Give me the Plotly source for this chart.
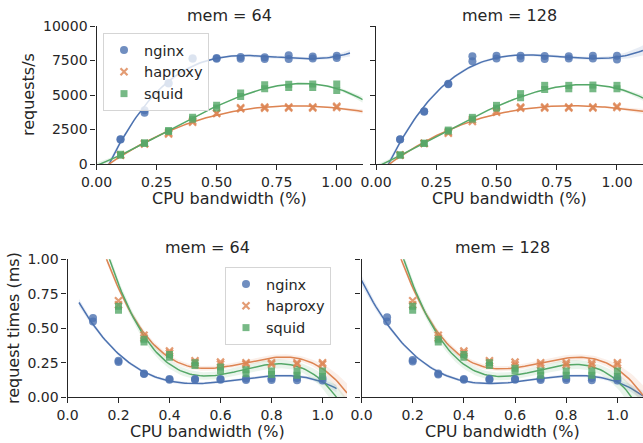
import numpy as np
import plotly.graph_objects as go

# ---------------- data ----------------
cpu = [0.1, 0.2, 0.3, 0.4, 0.5, 0.6, 0.7, 0.8, 0.9, 1.0]
servers = ["nginx", "haproxy", "squid"]

# requests/s, mem = 64 (repeated measurements per CPU value)
rps64_nginx = [[1780, 1800], [3720, 3900], [5840, 5870], [7630, 7670], [7620, 7680],
               [7620, 7760], [7600, 7730], [7600, 7880], [7650, 7790], [7690, 7840]]
rps64_haproxy = [[640, 660], [1460, 1480], [2180, 2270], [3020, 3120], [3660, 3700],
                 [4000, 4080], [4050, 4120], [4060, 4130], [4060, 4130], [4100, 4190]]
rps64_squid = [[640, 700], [1480, 1540], [2350, 2430], [3250, 3380], [4050, 4250],
               [4900, 5150], [5450, 5750], [5550, 5780], [5550, 5800], [5320, 5800]]

# requests/s, mem = 128
rps128_nginx = [[1780, 1800], [3780, 3820], [5780, 5820], [7450, 7800], [7650, 7850],
                [7650, 7850], [7600, 7820], [7650, 7800], [7650, 7850], [7580, 7850]]
rps128_haproxy = [[640, 660], [1490, 1510], [2230, 2320], [3080, 3200], [3750, 3850],
                  [4050, 4120], [4060, 4130], [4060, 4130], [4060, 4130], [4100, 4180]]
rps128_squid = [[640, 660], [1490, 1510], [2380, 2460], [3250, 3380], [4050, 4250],
                [4800, 5100], [5400, 5700], [5450, 5700], [5450, 5720], [5450, 5700]]

# request times (ms), mem = 64
rt64_nginx = [[0.55, 0.575], [0.255, 0.265], [0.168, 0.172], [0.128, 0.132], [0.127, 0.133],
              [0.127, 0.133], [0.126, 0.136], [0.125, 0.138], [0.124, 0.14], [0.122, 0.14]]
rt64_haproxy = [[1.35, 1.37], [0.67, 0.70], [0.43, 0.45], [0.32, 0.335], [0.25, 0.265],
                [0.24, 0.255], [0.24, 0.25], [0.24, 0.25], [0.24, 0.25], [0.24, 0.25]]
rt64_squid = [[1.50, 1.53], [0.63, 0.66], [0.40, 0.42], [0.29, 0.31], [0.23, 0.25],
              [0.19, 0.22], [0.17, 0.20], [0.165, 0.19], [0.16, 0.19], [0.15, 0.19]]

# request times (ms), mem = 128
rt128_nginx = [[0.55, 0.58], [0.26, 0.27], [0.165, 0.172], [0.128, 0.132], [0.127, 0.133],
               [0.127, 0.133], [0.126, 0.136], [0.125, 0.138], [0.124, 0.14], [0.122, 0.14]]
rt128_haproxy = [[1.36, 1.39], [0.67, 0.70], [0.43, 0.45], [0.32, 0.335], [0.25, 0.265],
                 [0.235, 0.255], [0.235, 0.25], [0.235, 0.25], [0.235, 0.25], [0.235, 0.25]]
rt128_squid = [[1.50, 1.53], [0.63, 0.66], [0.40, 0.42], [0.29, 0.31], [0.23, 0.25],
               [0.19, 0.21], [0.16, 0.19], [0.16, 0.19], [0.16, 0.19], [0.15, 0.19]]

top_ticks = [0, 2500, 5000, 7500, 10000]
top_xticks = [0.0, 0.25, 0.5, 0.75, 1.0]
bot_ticks = [0.0, 0.25, 0.5, 0.75, 1.0]
bot_xticks = [0.0, 0.2, 0.4, 0.6, 0.8, 1.0]

# ---------------- style ----------------
W, H = 643, 443
FONT = "DejaVu Sans"
INK = "#262626"
colors = {"nginx": "#4C72B0", "haproxy": "#DD8452", "squid": "#55A868"}
fills = {"nginx": "rgba(76,114,176,0.13)", "haproxy": "rgba(221,132,82,0.13)",
         "squid": "rgba(85,168,104,0.13)"}
symbols = {"nginx": "circle", "haproxy": "x-thin", "squid": "square"}
sizes = {"nginx": 8, "haproxy": 7, "squid": 7}


def px(p):
    return p / W


def py(p):
    return 1 - p / H


def expand(vals):
    xs, ys = [], []
    for c, reps in zip(cpu, vals):
        for v in reps:
            xs.append(c)
            ys.append(v)
    return np.array(xs), np.array(ys)


def fit(xs, ys, grid, k=0.9):
    X = np.vander(xs, 4)
    beta, *_ = np.linalg.lstsq(X, ys, rcond=None)
    resid = ys - X @ beta
    s2 = resid @ resid / max(len(ys) - 4, 1)
    cov = s2 * np.linalg.inv(X.T @ X)
    G = np.vander(grid, 4)
    yhat = G @ beta
    se = np.sqrt(np.einsum("ij,jk,ik->i", G, cov, G))
    return yhat, yhat - k * se, yhat + k * se


fig = go.Figure()

panels = [
    ("x", "y", {"nginx": rps64_nginx, "haproxy": rps64_haproxy, "squid": rps64_squid}, 1.108, True, "legend"),
    ("x2", "y2", {"nginx": rps128_nginx, "haproxy": rps128_haproxy, "squid": rps128_squid}, 1.108, False, None),
    ("x3", "y3", {"nginx": rt64_nginx, "haproxy": rt64_haproxy, "squid": rt64_squid}, 1.096, True, "legend2"),
    ("x4", "y4", {"nginx": rt128_nginx, "haproxy": rt128_haproxy, "squid": rt128_squid}, 1.1, False, None),
]

for xa, ya, data, xmax, left, leg in panels:
    for s in servers:
        xs, ys = expand(data[s])
        if left and s == "nginx":
            lo, hi = 0.045, 1.055
        else:
            lo, hi = 0.0, xmax
        grid = np.linspace(lo, hi, 120)
        yhat, ylo, yhi = fit(xs, ys, grid)
        fig.add_trace(go.Scatter(
            x=np.concatenate([grid, grid[::-1]]), y=np.concatenate([yhi, ylo[::-1]]),
            fill="toself", fillcolor=fills[s], line=dict(width=0), mode="lines",
            xaxis=xa, yaxis=ya, showlegend=False, hoverinfo="skip"))
        fig.add_trace(go.Scatter(
            x=grid, y=yhat, mode="lines", line=dict(color=colors[s], width=1.5),
            xaxis=xa, yaxis=ya, showlegend=False, hoverinfo="skip"))
    for s in servers:
        xs, ys = expand(data[s])
        mk = dict(symbol=symbols[s], size=sizes[s], color=colors[s], opacity=0.8)
        if s == "haproxy":
            mk["line"] = dict(color=colors[s], width=2.2)
        else:
            mk["line"] = dict(width=0)
        tr = dict(x=xs, y=ys, mode="markers", marker=mk, name=s,
                  xaxis=xa, yaxis=ya, showlegend=leg is not None)
        if leg is not None:
            tr["legend"] = leg
        fig.add_trace(go.Scatter(**tr))

axis_common = dict(showline=True, linecolor=INK, linewidth=1.25, ticks="outside",
                   ticklen=5, tickwidth=1.25, tickcolor=INK, showgrid=False, zeroline=False,
                   automargin=False,
                   tickfont=dict(family=FONT, size=14, color=INK))

fig.update_layout(
    width=W, height=H, autosize=False,
    margin=dict(l=0, r=0, t=0, b=0, pad=0, autoexpand=False),
    paper_bgcolor="white", plot_bgcolor="white",
    font=dict(family=FONT, color=INK),
    xaxis=dict(domain=[px(96.5), px(362.7)], range=[0, 1.108], anchor="y",
               tickvals=top_xticks, ticktext=[f"{v:.2f}" for v in top_xticks], **axis_common),
    yaxis=dict(domain=[py(164), py(26)], range=[0, 10000], anchor="x",
               tickvals=top_ticks, ticktext=[str(v) for v in top_ticks], **axis_common),
    xaxis2=dict(domain=[px(376), 1.0], range=[0, 1.108], anchor="y2",
                tickvals=top_xticks, ticktext=[f"{v:.2f}" for v in top_xticks], **axis_common),
    yaxis2=dict(domain=[py(164), py(26)], range=[0, 10000], anchor="x2",
                tickvals=top_ticks, showticklabels=False, **axis_common),
    xaxis3=dict(domain=[px(67.5), px(347)], range=[0, 1.096], anchor="y3",
                tickvals=bot_xticks, ticktext=[f"{v:.1f}" for v in bot_xticks], **axis_common),
    yaxis3=dict(domain=[py(397.3), py(259.3)], range=[0, 1.0], anchor="x3",
                tickvals=bot_ticks, ticktext=[f"{v:.2f}" for v in bot_ticks], **axis_common),
    xaxis4=dict(domain=[px(361.5), 1.0], range=[0, 1.1], anchor="y4",
                tickvals=bot_xticks, ticktext=[f"{v:.1f}" for v in bot_xticks], **axis_common),
    yaxis4=dict(domain=[py(397.3), py(259.3)], range=[0, 1.0], anchor="x4",
                tickvals=bot_ticks, showticklabels=False, **axis_common),
    legend=dict(x=px(103), y=py(33), xanchor="left", yanchor="top",
                bgcolor="rgba(255,255,255,0.8)", bordercolor="#d5d5d5", borderwidth=1,
                font=dict(family=FONT, size=14.5, color=INK)),
    legend2=dict(x=px(225), y=py(267), xanchor="left", yanchor="top",
                 bgcolor="rgba(255,255,255,0.8)", bordercolor="#d5d5d5", borderwidth=1,
                 font=dict(family=FONT, size=14.5, color=INK)),
)

ann = []
def text(t, x, y, size=16, angle=0):
    ann.append(dict(text=t, x=px(x), y=py(y), xref="paper", yref="paper",
                    showarrow=False, xanchor="center", yanchor="middle", textangle=angle,
                    font=dict(family=FONT, size=size, color=INK)))

text("mem = 64", (96.5 + 362.7) / 2, 15.5)
text("mem = 128", (376 + 643) / 2, 15.5)
text("mem = 64", (67.5 + 347) / 2, 247)
text("mem = 128", (361.5 + 643) / 2, 247)
text("CPU bandwidth (%)", (96.5 + 362.7) / 2, 198.5)
text("CPU bandwidth (%)", (376 + 643) / 2, 198.5)
text("CPU bandwidth (%)", (67.5 + 347) / 2, 431)
text("CPU bandwidth (%)", (361.5 + 643) / 2, 431)
text("requests/s", 28, 95, angle=-90)
text("request times (ms)", 13, 328, angle=-90)
fig.update_layout(annotations=ann)

fig.write_html("out.html", config={"responsive": False, "displayModeBar": False},
               post_script="document.body.style.margin='0';document.body.style.overflow='hidden';")
